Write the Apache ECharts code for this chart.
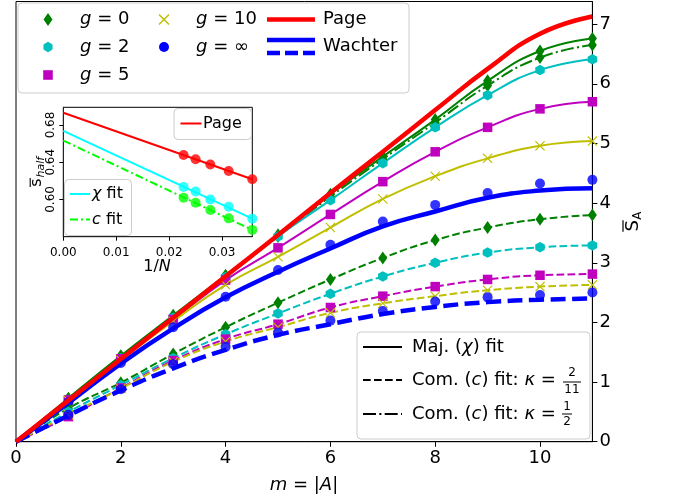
<!DOCTYPE html>
<html><head><meta charset="utf-8">
<script src="https://cdn.jsdelivr.net/npm/echarts@6/dist/echarts.min.js"></script>
<style>html,body{margin:0;padding:0;background:#fff}#c{width:681px;height:502px}</style>
</head><body><div id="c"></div>
<script>
// ---- data ----
const m = [0,1,2,3,4,5,6,7,8,9,10,11];
const xTicks = [0,2,4,6,8,10];
const yTicks = [0,1,2,3,4,5,6,7];
const pageS   = [0,0.693,1.386,2.079,2.773,3.466,4.17,4.86,5.56,6.25,6.84,7.13];
const wachMaj = [0,0.65,1.31,1.90,2.42,2.85,3.24,3.61,3.86,4.09,4.21,4.25];
const wachCom = [0,0.44,0.86,1.23,1.54,1.79,1.97,2.14,2.26,2.34,2.38,2.40];
// majority (chi) fit data
const g0Maj   = [0,0.73,1.44,2.12,2.79,3.47,4.15,4.78,5.40,6.05,6.55,6.76];
const g2Maj   = [0,0.70,1.40,2.08,2.76,3.44,4.05,4.67,5.27,5.81,6.23,6.41];
const g5Maj   = [0,0.70,1.39,2.05,2.71,3.25,3.81,4.36,4.86,5.27,5.58,5.70];
const g10Maj  = [0,0.69,1.37,2.02,2.63,3.10,3.59,4.07,4.45,4.75,4.96,5.04];
const gInfMaj = [0,0.66,1.32,1.92,2.43,2.88,3.30,3.69,3.97,4.17,4.33,4.39];
// commutant (c) fit, kappa = 1/2 (g = 0)
const g0Half  = [0,0.72,1.43,2.10,2.77,3.44,4.11,4.74,5.35,5.97,6.44,6.65];
// commutant (c) fit, kappa = 2/11
const g0Com   = [0,0.56,0.99,1.47,1.92,2.33,2.72,3.08,3.38,3.59,3.73,3.80];
const g2Com   = [0,0.50,0.95,1.40,1.80,2.15,2.48,2.77,3.00,3.17,3.26,3.29];
const g5Com   = [0,0.42,0.90,1.36,1.72,1.97,2.25,2.44,2.60,2.72,2.79,2.81];
const g10Com  = [0,0.45,0.89,1.34,1.68,1.92,2.16,2.32,2.44,2.54,2.60,2.63];
const gInfCom = [0,0.45,0.88,1.30,1.59,1.83,2.03,2.19,2.35,2.42,2.46,2.50];
// inset
const invN      = [0.02273,0.02500,0.02778,0.03125,0.03571];
const pageHalf  = [0.6477,0.6431,0.6376,0.6306,0.6217];
const chiHalf   = [0.6135,0.6085,0.6000,0.5922,0.5794];
const cHalf     = [0.6018,0.5965,0.5886,0.5797,0.5673];
const fitX      = [0,0.03571];
const pageLine  = [0.6931,0.6217];
const chiLine   = [0.6736,0.5794];
const cLine     = [0.6633,0.5673];
const insetXTicks = [0,0.01,0.02,0.03];
const insetYTicks = [0.60,0.64,0.68];

// ---- helpers ----
const FONT = 'DejaVu Sans';
const C = {g:'#008000', c:'#00bfbf', m:'#bf00bf', y:'#bfbf00', b:'#0000ff', r:'#ff0000'};
const HEX = 'path://M0,-10L8.66,-5L8.66,5L0,10L-8.66,5L-8.66,-5Z';
const XMK = 'path://M-10,-8.4L-8.4,-10L0,-1.6L8.4,-10L10,-8.4L1.6,0L10,8.4L8.4,10L0,1.6L-8.4,10L-10,8.4L-1.6,0Z';
const SM = 0.5;
function pts(ys){ return m.map((x,i)=> i===0 ? {value:[x,ys[i]], symbol:'none'} : [x,ys[i]]); }
function fit(ys, color, symbol, size, dash, z){
  return {type:'line', xAxisIndex:0, yAxisIndex:0, data:pts(ys), smooth:SM,
    symbol:symbol, symbolSize:size, symbolKeepAspect:false, showSymbol:true, z:z||3,
    lineStyle:{color:color, width:2, type:dash||'solid'}, itemStyle:{color:color, borderWidth:0}};
}
function scat(ys, color, symbol, size){
  return {type:'scatter', xAxisIndex:0, yAxisIndex:0, data:m.slice(1).map((x,i)=>[x,ys[i+1]]),
    symbol:symbol, symbolSize:size, itemStyle:{color:color}, z:3};
}
function curve(ys, color, width, dash, z){
  return {type:'line', xAxisIndex:0, yAxisIndex:0, data:m.map((x,i)=>[x,ys[i]]), smooth:SM,
    showSymbol:false, symbol:'none', lineStyle:{color:color, width:width, type:dash||'solid'}, z:z};
}
const DASH = [7.7,3.3], DASHDOT = [13,3.3,2.1,3.3];

const series = [
  fit(g0Maj, C.g, 'diamond', [9,13]),
  fit(g0Half, C.g, 'diamond', [9,13], DASHDOT),
  fit(g2Maj, C.c, HEX, [9.5,10.5]),
  fit(g5Maj, C.m, 'rect', 9.5),
  fit(g10Maj, C.y, XMK, 10),
  scat(gInfMaj, C.b, 'circle', 10),
  fit(g0Com, C.g, 'diamond', [9,13], DASH),
  fit(g2Com, C.c, HEX, [9.5,10.5], DASH),
  fit(g5Com, C.m, 'rect', 9.5, DASH),
  fit(g10Com, C.y, XMK, 10, DASH),
  scat(gInfCom, C.b, 'circle', 10),
  curve(wachMaj, C.b, 4.5, 'solid', 5),
  curve(wachCom, C.b, 4.5, [15,6.5], 5),
  curve(pageS, C.r, 4.5, 'solid', 6),
  // inset
  {type:'line', xAxisIndex:1, yAxisIndex:1, data:fitX.map((x,i)=>[x,pageLine[i]]), showSymbol:false, symbol:'none',
    lineStyle:{color:'#ff0000', width:2}, z:10},
  {type:'line', xAxisIndex:1, yAxisIndex:1, data:fitX.map((x,i)=>[x,chiLine[i]]), showSymbol:false, symbol:'none',
    lineStyle:{color:'#00ffff', width:2}, z:10},
  {type:'line', xAxisIndex:1, yAxisIndex:1, data:fitX.map((x,i)=>[x,cLine[i]]), showSymbol:false, symbol:'none',
    lineStyle:{color:'#00ff00', width:2, type:[8,3,2,3]}, z:10},
  {type:'scatter', xAxisIndex:1, yAxisIndex:1, data:invN.map((x,i)=>[x,pageHalf[i]]), symbolSize:10, itemStyle:{color:'#ff0000'}, z:11},
  {type:'scatter', xAxisIndex:1, yAxisIndex:1, data:invN.map((x,i)=>[x,chiHalf[i]]), symbolSize:10, itemStyle:{color:'#00ffff'}, z:11},
  {type:'scatter', xAxisIndex:1, yAxisIndex:1, data:invN.map((x,i)=>[x,cHalf[i]]), symbolSize:10, itemStyle:{color:'#00ff00'}, z:11}
];

const ax = {color:'#000'};
const mainX = {gridIndex:0, type:'value', min:0, max:11, interval:2,
  axisLine:{show:true, onZero:false, lineStyle:ax}, splitLine:{show:false},
  axisTick:{show:true, inside:false, length:5, lineStyle:ax, customValues:xTicks},
  axisLabel:{customValues:xTicks, fontSize:18, fontFamily:FONT, color:'#000', margin:8,
    formatter:v=> xTicks.indexOf(v)>=0 ? String(v) : ''}};
const mainY = {gridIndex:0, type:'value', position:'right', min:0, max:7.38, interval:1,
  axisLine:{show:true, onZero:false, lineStyle:ax}, splitLine:{show:false},
  axisTick:{show:true, inside:false, length:5, lineStyle:ax, customValues:yTicks},
  axisLabel:{customValues:yTicks, fontSize:18, fontFamily:FONT, color:'#000', margin:7,
    formatter:v=> yTicks.indexOf(v)>=0 ? String(v) : ''}};
const insX = {gridIndex:1, type:'value', min:0, max:0.03571, interval:0.01,
  axisLine:{show:true, onZero:false, lineStyle:ax}, splitLine:{show:false},
  axisTick:{show:true, inside:false, length:4, lineStyle:ax, customValues:insetXTicks},
  axisLabel:{customValues:insetXTicks, fontSize:12, fontFamily:FONT, color:'#000', margin:10,
    formatter:v=> v>0.035 ? '' : v.toFixed(2)}};
const insY = {gridIndex:1, type:'value', position:'left', min:0.56, max:0.699, interval:0.04,
  axisLine:{show:true, onZero:false, lineStyle:ax}, splitLine:{show:false},
  axisTick:{show:true, inside:false, length:4, lineStyle:ax, customValues:insetYTicks},
  axisLabel:{customValues:insetYTicks, fontSize:12, fontFamily:FONT, color:'#000', margin:6, rotate:90,
    formatter:v=> (v<0.58||v>0.69) ? '' : v.toFixed(2)}};

// ---- graphic (legends, axis titles) ----
function txt(x,y,text,size,align){
  return {type:'text', z:100, style:{x:x, y:y, text:text, fill:'#000',
    font:(size||18)+'px "'+FONT+'"', textAlign:align||'left', textVerticalAlign:'middle',
    rich:{i:{fontStyle:'italic', fontSize:size||18, fontFamily:FONT}}}};
}
function ln(x1,y1,x2,y2,color,w,dash){
  return {type:'line', z:100, shape:{x1:x1,y1:y1,x2:x2,y2:y2}, style:{stroke:color, lineWidth:w, lineDash:dash||null}};
}
function box(x,y,w,h){
  return {type:'rect', z:99, shape:{x:x,y:y,width:w,height:h,r:4}, style:{fill:'rgba(255,255,255,0.8)', stroke:'#cccccc', lineWidth:1}};
}
function poly(points,color){ return {type:'polygon', z:100, shape:{points:points}, style:{fill:color}}; }
const hexPts = (cx,cy,r)=>[[cx,cy-r],[cx+0.866*r,cy-r/2],[cx+0.866*r,cy+r/2],[cx,cy+r],[cx-0.866*r,cy+r/2],[cx-0.866*r,cy-r/2]];

const graphics = [
  // main legend
  box(18,3,391,90),
  poly([[48,13],[52.5,19.5],[48,26],[43.5,19.5]], C.g), txt(80,19.5,'{i|g} = 0'),
  poly(hexPts(48,47,5.2), C.c), txt(80,47,'{i|g} = 2'),
  {type:'rect', z:100, shape:{x:43.2,y:70.2,width:9.6,height:9.6}, style:{fill:C.m}}, txt(80,75,'{i|g} = 5'),
  ln(159,14.5,169,24.5,C.y,1.5), ln(159,24.5,169,14.5,C.y,1.5), txt(196,19.5,'{i|g} = 10'),
  {type:'circle', z:100, shape:{cx:164,cy:47,r:5}, style:{fill:C.b}}, txt(196,47,'{i|g} = \u221e'),
  ln(267,19.5,315,19.5,C.r,4.5), txt(323,19.5,'Page'),
  ln(267,40,315,40,C.b,4.5), ln(267,53,315,53,C.b,4.5,[13,5]), txt(323,46.5,'Wachter'),
  // lower-right legend
  box(357,332,233,107),
  ln(363,347,402,347,'#000',2), txt(412,347,'Maj. ({i|\u03c7}) fit'),
  ln(363,380,402,380,'#000',2,[7.7,3.3]), txt(412,380,'Com. ({i|c}) fit: {i|\u03ba} = '),
  txt(572,373,'2',12,'center'), ln(563,382,581,382,'#000',1), txt(572,390,'11',12,'center'),
  ln(363,414,402,414,'#000',2,[13,3.3,2.1,3.3]), txt(412,414,'Com. ({i|c}) fit: {i|\u03ba} = '),
  txt(567,406.5,'1',12,'center'), ln(562,414,572,414,'#000',1), txt(567,422,'2',12,'center'),
  // inset legends
  box(174,108.5,77.5,31),
  ln(180.5,123.5,201.5,123.5,'#ff0000',2), txt(203,123.5,'Page',16),
  box(64.5,179.5,67,56),
  ln(70,194,90,194,'#00ffff',2), txt(92,194,'{i|\u03c7} fit',16),
  ln(70,219.5,90,219.5,'#00ff00',2,[8,3,2,3]), txt(92,219.5,'{i|c} fit',16),
  // axis titles
  txt(304,485,'{i|m} = |{i|A}|',18,'center'),
  txt(157,267,'1/{i|N}',16,'center'),
  {type:'group', z:100, x:633, y:221.6, rotation:Math.PI/2, children:[
    {type:'text', z:100, style:{x:-4.3, y:0, text:'S', font:'18px "'+FONT+'"', fill:'#000', textAlign:'center', textVerticalAlign:'middle'}},
    {type:'line', z:100, shape:{x1:-10.2,y1:-10,x2:1.4,y2:-10}, style:{stroke:'#000', lineWidth:1.2}},
    {type:'text', z:100, style:{x:1.8, y:5, text:'A', font:'12px "'+FONT+'"', fill:'#000', textAlign:'left', textVerticalAlign:'middle'}}
  ]},
  {type:'group', z:100, x:37, y:172, rotation:Math.PI/2, children:[
    {type:'text', z:100, style:{x:-10.5, y:0, text:'s', font:'16px "'+FONT+'"', fill:'#000', textAlign:'center', textVerticalAlign:'middle'}},
    {type:'line', z:100, shape:{x1:-15,y1:-6.8,x2:-6,y2:-6.8}, style:{stroke:'#000', lineWidth:1.1}},
    {type:'text', z:100, style:{x:-5.5, y:4.5, text:'half', font:'italic 11px "'+FONT+'"', fill:'#000', textAlign:'left', textVerticalAlign:'middle'}}
  ]}
];

const chart = echarts.init(document.getElementById('c'), null, {renderer:'canvas'});
chart.setOption({
  animation:false,
  backgroundColor:'#fff',
  grid:[
    {left:16, top:1.5, width:576.4, height:440.2, show:true, borderColor:'#000', borderWidth:1, backgroundColor:'transparent', containLabel:false},
    {left:63.3, top:107.3, width:189, height:129.4, show:true, borderColor:'#000', borderWidth:1, backgroundColor:'#fff', containLabel:false, z:8}
  ],
  xAxis:[mainX, insX],
  yAxis:[mainY, insY],
  series:series,
  graphic:{elements:graphics}
});
</script></body></html>
